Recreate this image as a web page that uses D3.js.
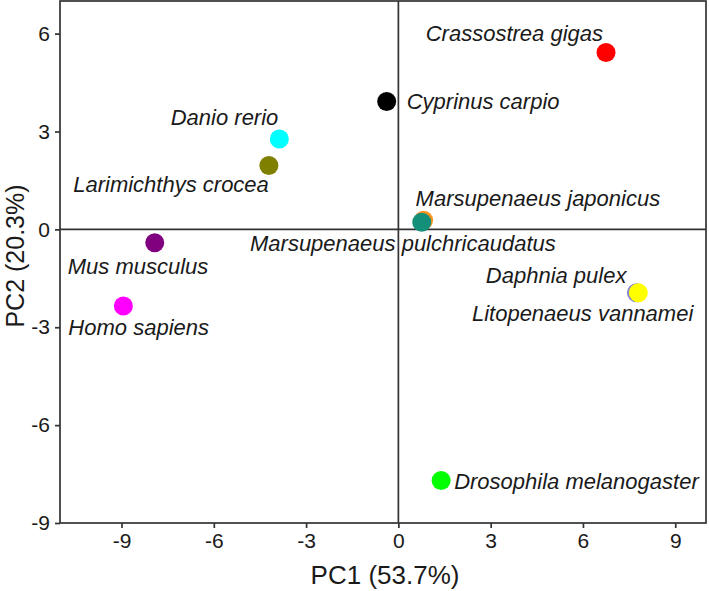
<!DOCTYPE html>
<html>
<head>
<meta charset="utf-8">
<script src="https://cdn.jsdelivr.net/npm/d3@7"></script>
<style>
  html, body { margin: 0; padding: 0; background: #fff; }
  svg { display: block; font-family: "Liberation Sans", Arial, Helvetica, sans-serif; }
</style>
</head>
<body>
<svg id="chart" width="709" height="591"></svg>
<script>
// ---- data ----
const species = [
  "Crassostrea gigas", "Cyprinus carpio", "Danio rerio", "Larimichthys crocea",
  "Mus musculus", "Homo sapiens", "Marsupenaeus japonicus", "Marsupenaeus pulchricaudatus",
  "Daphnia pulex", "Litopenaeus vannamei", "Drosophila melanogaster"
];
const pc1 = [6.75, -0.38, -3.87, -4.21, -7.92, -8.94, 0.82, 0.76, 7.74, 7.80, 1.39];
const pc2 = [5.42, 3.92, 2.77, 1.96, -0.41, -2.35, 0.28, 0.22, -1.94, -1.94, -7.70];
const colors = ["#ff0000", "#000000", "#00ffff", "#808000", "#800080", "#ff00ff",
                "#f7941d", "#14907a", "#8080d8", "#ffff00", "#00ff00"];
const xTicks = [-9, -6, -3, 0, 3, 6, 9];
const yTicks = [-9, -6, -3, 0, 3, 6];
const xTitle = "PC1 (53.7%)";
const yTitle = "PC2 (20.3%)";

// label placement relative to each point (pixels)
const labelDx = [-3, 20, -1, 0, -87, -55, -8, 134, -10, 55, 13];
const labelDy = [-12, 8, -14, 27, 31, 29, -14, 29, -10, 28, 8];
const labelAnchor = ["end", "start", "end", "end", "start", "start", "start", "end", "end", "end", "start"];

// ---- layout ----
const svg = d3.select("#chart");
const mLeft = 60, mRight = 706, mTop = 1, mBottom = 523;
const x = d3.scaleLinear().domain([-11, 10]).range([mLeft, mRight]);
const y = d3.scaleLinear().domain([-9, 7]).range([mBottom, mTop]);
const ink = "#333333";

// frame
svg.append("rect")
  .attr("x", mLeft).attr("y", mTop)
  .attr("width", mRight - mLeft).attr("height", mBottom - mTop)
  .attr("fill", "none").attr("stroke", ink).attr("stroke-width", 1.7);

// zero lines
svg.append("line")
  .attr("x1", x(0)).attr("x2", x(0)).attr("y1", mTop).attr("y2", mBottom)
  .attr("stroke", ink).attr("stroke-width", 1.7);
svg.append("line")
  .attr("x1", mLeft).attr("x2", mRight).attr("y1", y(0)).attr("y2", y(0))
  .attr("stroke", ink).attr("stroke-width", 1.7);

// axes
const xAxis = svg.append("g")
  .attr("transform", `translate(0,${mBottom})`)
  .call(d3.axisBottom(x).tickValues(xTicks).tickSize(5).tickPadding(5).tickFormat(d3.format("d")));
const yAxis = svg.append("g")
  .attr("transform", `translate(${mLeft},0)`)
  .call(d3.axisLeft(y).tickValues(yTicks).tickSize(5).tickPadding(5).tickFormat(d3.format("d")));
[xAxis, yAxis].forEach(g => {
  g.select(".domain").remove();
  g.selectAll(".tick line").attr("stroke", ink).attr("stroke-width", 1.7);
  g.selectAll(".tick text")
    .attr("fill", "#1a1a1a")
    .style("font-size", "21px")
    .style("font-family", "'Liberation Sans', Arial, sans-serif");
});
xAxis.selectAll(".tick text").text(d => d < 0 ? "-" + Math.abs(d) : d);
yAxis.selectAll(".tick text").text(d => d < 0 ? "-" + Math.abs(d) : d);

// axis titles
svg.append("text")
  .attr("x", (mLeft + mRight) / 2 + 2).attr("y", 584)
  .attr("text-anchor", "middle")
  .attr("fill", "#1a1a1a")
  .style("font-size", "26px")
  .text(xTitle);
svg.append("text")
  .attr("transform", `translate(24,${256}) rotate(-90)`)
  .attr("text-anchor", "middle")
  .attr("fill", "#1a1a1a")
  .style("font-size", "25px")
  .text(yTitle);

// points
const idx = d3.range(species.length);
svg.append("g").selectAll("circle")
  .data(idx)
  .join("circle")
  .attr("cx", i => x(pc1[i]))
  .attr("cy", i => y(pc2[i]))
  .attr("r", 9.5)
  .attr("fill", i => colors[i]);

// labels
svg.append("g").selectAll("text")
  .data(idx)
  .join("text")
  .attr("x", i => x(pc1[i]) + labelDx[i])
  .attr("y", i => y(pc2[i]) + labelDy[i])
  .attr("text-anchor", i => labelAnchor[i])
  .attr("fill", "#1a1a1a")
  .style("font-size", "22px")
  .style("font-style", "italic")
  .text(i => species[i]);
</script>
</body>
</html>
